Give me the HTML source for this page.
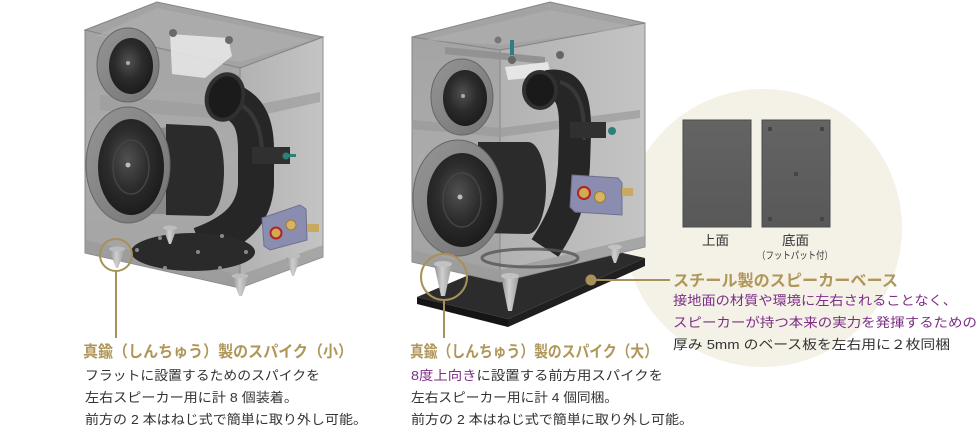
<!DOCTYPE html>
<html><head><meta charset="utf-8">
<style>
html,body{margin:0;padding:0;background:#fff;width:980px;height:426px;overflow:hidden}
svg{display:block}
text{font-family:"Liberation Sans","Noto Sans CJK JP",sans-serif}
</style></head>
<body>
<svg width="980" height="426" viewBox="0 0 980 426" xmlns="http://www.w3.org/2000/svg">
<defs>
 <radialGradient id="woof" cx="45%" cy="42%" r="62%"><stop offset="0" stop-color="#505050"/><stop offset="0.5" stop-color="#2c2c2c"/><stop offset="1" stop-color="#1a1a1a"/></radialGradient>
 <linearGradient id="ring" x1="0" y1="0" x2="1" y2="1"><stop offset="0" stop-color="#959595"/><stop offset="1" stop-color="#747474"/></linearGradient>
 <linearGradient id="plate" x1="0" y1="0" x2="0" y2="1"><stop offset="0" stop-color="#646464"/><stop offset="1" stop-color="#585858"/></linearGradient>
 <linearGradient id="cone" x1="0" y1="0" x2="1" y2="0"><stop offset="0" stop-color="#8e8e8e"/><stop offset="0.45" stop-color="#cfcfcf"/><stop offset="1" stop-color="#9a9a9a"/></linearGradient>
 <linearGradient id="sideL" x1="0" y1="0" x2="1" y2="0"><stop offset="0" stop-color="#b2b2b2"/><stop offset="1" stop-color="#c4c4c4"/></linearGradient>
 <linearGradient id="front" x1="0" y1="0" x2="0" y2="1"><stop offset="0" stop-color="#a4a4a4"/><stop offset="0.5" stop-color="#ababab"/><stop offset="1" stop-color="#a2a2a2"/></linearGradient>
 <linearGradient id="pipeg" x1="0" y1="0" x2="1" y2="0"><stop offset="0" stop-color="#1e1e1e"/><stop offset="0.5" stop-color="#363636"/><stop offset="1" stop-color="#1e1e1e"/></linearGradient>
</defs>

<!-- cream circle -->
<circle cx="763" cy="228" r="139" fill="#f4f1e7"/>

<!-- panels -->
<rect x="683" y="120" width="68" height="107" fill="url(#plate)" stroke="#4b4b4b" stroke-width="1"/>
<rect x="762" y="120" width="68" height="107" fill="url(#plate)" stroke="#4b4b4b" stroke-width="1"/>
<g fill="#454545">
 <rect x="768" y="127" width="4" height="4"/><rect x="820" y="127" width="4" height="4"/>
 <rect x="794" y="172" width="4" height="4"/>
 <rect x="768" y="217" width="4" height="4"/><rect x="820" y="217" width="4" height="4"/>
</g>
<text x="702" y="245" font-size="13" fill="#333" textLength="27" lengthAdjust="spacingAndGlyphs">上面</text>
<text x="782" y="245" font-size="13" fill="#333" textLength="27" lengthAdjust="spacingAndGlyphs">底面</text>
<text x="757" y="259" font-size="10" fill="#333" textLength="76" lengthAdjust="spacingAndGlyphs">（フットパット付）</text>

<!-- ============ LEFT SPEAKER ============ -->
<g>
 <polygon points="240,68 323,37 323,257 240,288" fill="url(#sideL)" stroke="#8c8c8c"/>
 <polygon points="85,30 157,2 323,37 240,68" fill="#a3a3a3" stroke="#858585"/>
 <polygon points="85,30 240,68 240,288 85,253" fill="url(#front)" stroke="#858585"/>
 <polygon points="96,36 157,8 312,40 240,62" fill="#b0b0b0" opacity="0.6"/>
 <polygon points="85,240 240,275 323,245 323,257 240,288 85,253" fill="#9a9a9a" opacity="0.7"/>
 <!-- inner shelf -->
 <polygon points="100,95 240,108 320,92 320,102 240,120 100,110" fill="#9c9c9c" opacity="0.7"/>
 <!-- white top part -->
 <polygon points="170,34 228,38 232,56 205,78 172,74" fill="#e6e6e6" opacity="0.9"/>
 <circle cx="173" cy="33" r="4" fill="#6a6a6a"/><circle cx="229" cy="40" r="4" fill="#6a6a6a"/>
 <!-- tweeter -->
 <ellipse cx="128" cy="65" rx="31" ry="37" fill="url(#ring)" stroke="#666"/>
 <ellipse cx="131" cy="66" rx="22" ry="28" fill="url(#woof)"/>
 <circle cx="128" cy="63" r="2" fill="#aaa"/>
 <!-- woofer back -->
 <path d="M150 130 L172 126 L172 214 L150 214 Z" fill="#8a8a8a"/>
 <path d="M166 124 L208 126 A16 45 0 0 1 208 216 L166 215 Z" fill="#2b2b2b"/>
 <!-- pipe -->
 <path d="M228 100 C250 108 256 125 256 150 L256 185 C254 215 235 232 200 245" fill="none" stroke="#262626" stroke-width="36"/>
 <path d="M240 104 C258 115 262 135 262 155" fill="none" stroke="#444" stroke-width="4" opacity="0.6"/>
 <ellipse cx="225" cy="97" rx="18" ry="23" fill="#1b1b1b" stroke="#303030" stroke-width="4" transform="rotate(15 225 97)"/>
 <rect x="252" y="147" width="38" height="17" fill="#303030"/>
 <circle cx="286" cy="156" r="3.5" fill="#2a807a"/>
 <rect x="288" y="154" width="8" height="3" fill="#2a807a"/>
 <!-- woofer -->
 <ellipse cx="128" cy="165" rx="42" ry="58" fill="url(#ring)" stroke="#666"/>
 <ellipse cx="131" cy="167" rx="33" ry="48" fill="url(#woof)"/>
 <ellipse cx="131" cy="167" rx="18" ry="27" fill="none" stroke="#444" stroke-width="1.5"/>
 <circle cx="128" cy="165" r="2.5" fill="#bbb"/>
 <!-- bottom disk -->
 <ellipse cx="193" cy="252" rx="62" ry="19" fill="#2a2a2a"/>
 <g fill="#8a8a8a"><circle cx="137" cy="250" r="2"/><circle cx="160" cy="238" r="2"/><circle cx="222" cy="236" r="2"/><circle cx="246" cy="252" r="2"/><circle cx="220" cy="268" r="2"/><circle cx="165" cy="268" r="2"/></g>
 <circle cx="198" cy="252" r="2" fill="#888"/>
 <!-- terminal -->
 <polygon points="262,218 300,205 306,209 307,240 270,250 264,246" fill="#8a8db0" stroke="#6e7090"/>
 <circle cx="276" cy="233" r="5.5" fill="#d2aa55" stroke="#b02424" stroke-width="2"/>
 <circle cx="291" cy="225" r="5" fill="#d6b466" stroke="#a07a30"/>
 <rect x="307" y="224" width="12" height="8" fill="#c9a860"/>
 <!-- spikes -->
 <polygon points="109,249 125,249 118,268 116,268" fill="url(#cone)"/>
 <ellipse cx="117" cy="249" rx="8" ry="2.5" fill="#bdbdbd"/>
 <polygon points="163,228 177,228 171,244 169,244" fill="url(#cone)"/>
 <ellipse cx="170" cy="228" rx="7" ry="2.5" fill="#bdbdbd"/>
 <polygon points="232,276 249,276 242,296 239,296" fill="url(#cone)"/>
 <ellipse cx="240" cy="276" rx="8.5" ry="2.5" fill="#bdbdbd"/>
 <polygon points="286,256 301,256 294,276 292,276" fill="url(#cone)"/>
 <ellipse cx="293" cy="256" rx="7.5" ry="2.5" fill="#bdbdbd"/>
</g>

<!-- ============ RIGHT SPEAKER ============ -->
<g>
 <!-- base plate -->
 <polygon points="417,297 508,319 508,327 417,304" fill="#151515"/>
 <polygon points="508,319 645,258 645,266 508,327" fill="#1f1f1f"/>
 <polygon points="417,297 508,319 645,258 556,238" fill="#2c2c2c"/>
 <!-- box -->
 <polygon points="500,50 645,23 645,247 500,282" fill="url(#sideL)" stroke="#8c8c8c"/>
 <polygon points="412,37 550,2 645,23 500,50" fill="#a3a3a3" stroke="#858585"/>
 <polygon points="412,37 500,50 500,282 412,262" fill="url(#front)" stroke="#858585"/>
 <polygon points="424,40 550,10 635,27 500,45" fill="#b0b0b0" opacity="0.6"/>
 <polygon points="412,250 500,270 645,236 645,247 500,282 412,262" fill="#9a9a9a" opacity="0.7"/>
 <!-- shelf -->
 <polygon points="412,120 500,128 640,110 640,118 500,137 412,129" fill="#9a9a9a" opacity="0.7"/>
 <!-- top parts -->
 <polygon points="445,47 545,57 545,64 445,54" fill="#929292"/>
 <polygon points="505,67 548,62 551,76 508,80" fill="#e6e6e6"/>
 <rect x="510" y="40" width="4" height="15" fill="#2a807a"/>
 <circle cx="512" cy="60" r="4" fill="#666"/><circle cx="560" cy="55" r="4" fill="#666"/><circle cx="498" cy="40" r="3.5" fill="#777"/>
 <!-- tweeter -->
 <ellipse cx="462" cy="97" rx="31" ry="38" fill="url(#ring)" stroke="#666"/>
 <ellipse cx="465" cy="98" rx="22" ry="28" fill="url(#woof)"/>
 <circle cx="463" cy="96" r="2" fill="#aaa"/>
 <!-- woofer back -->
 <path d="M478 142 L528 142 A18 46 0 0 1 528 234 L478 233 Z" fill="#2b2b2b"/>
 <!-- pipe -->
 <path d="M548 86 C570 82 576 100 575 135 L574 165 C572 200 562 222 545 248" fill="none" stroke="#262626" stroke-width="32"/>
 <path d="M560 82 C580 88 585 110 584 140" fill="none" stroke="#444" stroke-width="4" opacity="0.6"/>
 <ellipse cx="540" cy="90" rx="16" ry="18" fill="#1a1a1a" stroke="#303030" stroke-width="4"/>
 <rect x="570" y="122" width="36" height="16" fill="#303030"/>
 <circle cx="612" cy="131" r="4" fill="#2a807a"/>
 <!-- terminal -->
 <polygon points="572,175 618,178 622,183 622,215 575,212 570,207" fill="#8a8db0" stroke="#6e7090"/>
 <circle cx="584" cy="193" r="6" fill="#d2aa55" stroke="#b02424" stroke-width="2"/>
 <circle cx="600" cy="197" r="5.5" fill="#d6b466" stroke="#a07a30"/>
 <rect x="622" y="188" width="11" height="8" fill="#c9a860"/>
 <!-- woofer -->
 <ellipse cx="458" cy="198" rx="45" ry="58" fill="url(#ring)" stroke="#666"/>
 <ellipse cx="462" cy="200" rx="35" ry="47" fill="url(#woof)"/>
 <ellipse cx="462" cy="200" rx="19" ry="27" fill="none" stroke="#444" stroke-width="1.5"/>
 <circle cx="460" cy="197" r="2.5" fill="#bbb"/>
 <!-- bottom ring -->
 <ellipse cx="530" cy="258" rx="48" ry="9" fill="none" stroke="#555" stroke-width="3" opacity="0.8"/>
 <!-- spikes -->
 <polygon points="434,264 452,264 445,296 441,296" fill="url(#cone)"/>
 <ellipse cx="443" cy="264" rx="9" ry="3" fill="#c2c2c2"/>
 <polygon points="501,276 519,276 512,311 508,311" fill="url(#cone)"/>
 <ellipse cx="510" cy="276" rx="9" ry="3" fill="#c2c2c2"/>
 <polygon points="608,247 622,247 616,263 614,263" fill="url(#cone)"/>
 <ellipse cx="615" cy="247" rx="7" ry="2.5" fill="#c2c2c2"/>
</g>

<!-- connectors -->
<g stroke="#a8905a" stroke-width="2" fill="none">
 <circle cx="116" cy="255" r="16"/>
 <line x1="116" y1="271" x2="116" y2="338"/>
 <circle cx="444" cy="277" r="23"/>
 <line x1="444" y1="300" x2="444" y2="338"/>
 <line x1="591" y1="280" x2="670" y2="280"/>
</g>
<circle cx="591" cy="280" r="5.5" fill="#a8905a"/>

<!-- texts -->
<text x="83" y="357" font-size="16" font-weight="bold" fill="#b09658" textLength="270" lengthAdjust="spacingAndGlyphs">真鍮（しんちゅう）製のスパイク（小）</text>
<text x="85" y="380" font-size="13" fill="#333" textLength="235" lengthAdjust="spacingAndGlyphs">フラットに設置するためのスパイクを</text>
<text x="85" y="402" font-size="13" fill="#333" textLength="213" lengthAdjust="spacingAndGlyphs">左右スピーカー用に計 8 個装着。</text>
<text x="85" y="424" font-size="13" fill="#333" textLength="282" lengthAdjust="spacingAndGlyphs">前方の 2 本はねじ式で簡単に取り外し可能。</text>

<text x="410" y="357" font-size="16" font-weight="bold" fill="#b09658" textLength="248" lengthAdjust="spacingAndGlyphs">真鍮（しんちゅう）製のスパイク（大）</text>
<text x="411" y="380" font-size="13" fill="#333" textLength="252" lengthAdjust="spacingAndGlyphs"><tspan fill="#7d2d86">8度上向き</tspan>に設置する前方用スパイクを</text>
<text x="411" y="402" font-size="13" fill="#333" textLength="207" lengthAdjust="spacingAndGlyphs">左右スピーカー用に計 4 個同梱。</text>
<text x="411" y="424" font-size="13" fill="#333" textLength="282" lengthAdjust="spacingAndGlyphs">前方の 2 本はねじ式で簡単に取り外し可能。</text>

<text x="673" y="286" font-size="16" font-weight="bold" fill="#b09658" textLength="225" lengthAdjust="spacingAndGlyphs">スチール製のスピーカーベース</text>
<text x="673" y="305" font-size="13" fill="#7d2d86" textLength="284" lengthAdjust="spacingAndGlyphs">接地面の材質や環境に左右されることなく、</text>
<text x="673" y="327" font-size="13" fill="#7d2d86" textLength="304" lengthAdjust="spacingAndGlyphs">スピーカーが持つ本来の実力を発揮するための</text>
<text x="673" y="349" font-size="13" fill="#333" textLength="277" lengthAdjust="spacingAndGlyphs">厚み 5mm のベース板を左右用に２枚同梱</text>
</svg>
</body></html>
